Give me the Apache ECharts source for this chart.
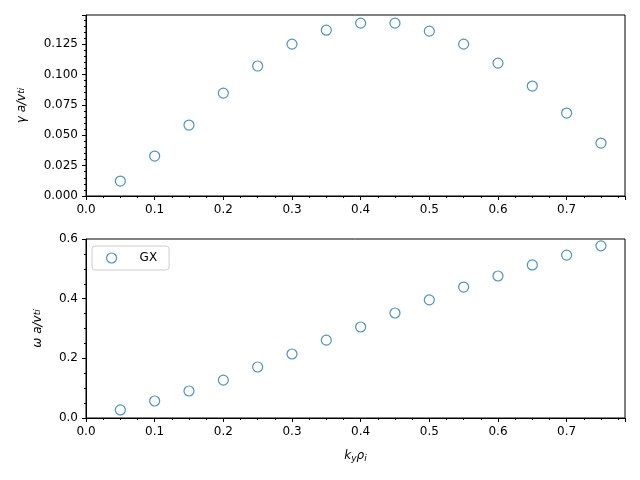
<!DOCTYPE html>
<html><head><meta charset="utf-8">
<script src="https://cdn.jsdelivr.net/npm/echarts@6/dist/echarts.min.js"></script>
<style>html,body{margin:0;padding:0;background:#fff}#c{width:640px;height:480px}</style>
</head><body><div id="c"></div>
<script>
const ky = [0.05,0.1,0.15,0.2,0.25,0.3,0.35,0.4,0.45,0.5,0.55,0.6,0.65,0.7,0.75];
const gamma = [0.0123,0.0329,0.0584,0.0847,0.107,0.125,0.1365,0.1423,0.1423,0.1357,0.125,0.1094,0.0905,0.0683,0.0436];
const omega = [0.027,0.057,0.0905,0.127,0.171,0.2145,0.261,0.305,0.352,0.396,0.439,0.476,0.513,0.546,0.577];
const c = '#1f77b4';
const font = 'DejaVu Sans';
const chart = echarts.init(document.getElementById('c'));
const xAx = (i, name) => ({
  type:'value', gridIndex:i, min:0, max:0.785, interval:0.1,
  name:name, nameLocation:'middle', nameGap:30,
  nameTextStyle:{color:'#000',fontFamily:font,fontSize:12,rich:{s:{fontSize:9,fontStyle:'italic',verticalAlign:'bottom',padding:[6,0,0,0]},i:{fontStyle:'italic',fontSize:12}}},
  axisLine:{show:true,lineStyle:{color:'#000'}},
  axisTick:{show:true,length:4,inside:false,lineStyle:{color:'#000'}},
  minorTick:{show:true,splitNumber:4,length:2,lineStyle:{color:'#000'}},
  splitLine:{show:false},
  axisLabel:{color:'#000',fontFamily:font,fontSize:12,showMaxLabel:false,formatter:v=>v.toFixed(1)}
});
const yAx = (i, max, interval, dec, name, showMax) => ({
  type:'value', gridIndex:i, min:0, max:max, interval:interval,
  name:name, nameLocation:'middle', nameGap:dec===3?58:42, nameRotate:90,
  nameTextStyle:{color:'#000',fontFamily:font,fontSize:12,rich:{s:{fontSize:9,fontStyle:'italic',padding:[0,0,0,0]},i:{fontStyle:'italic',fontSize:12}}},
  axisLine:{show:true,lineStyle:{color:'#000'}},
  axisTick:{show:true,length:4,lineStyle:{color:'#000'}},
  minorTick:{show:true,splitNumber:dec===3?5:4,length:2,lineStyle:{color:'#000'}},
  splitLine:{show:false},
  axisLabel:{color:'#000',fontFamily:font,fontSize:12,showMaxLabel:showMax,formatter:v=>v.toFixed(dec)}
});
chart.setOption({
  animation:false,
  grid:[
    {left:86,right:15,top:15,height:181,show:true,borderColor:'#000',borderWidth:1},
    {left:86,right:15,top:239,height:179,show:true,borderColor:'#000',borderWidth:1}
  ],
  xAxis:[xAx(0,''), xAx(1,'{i|k}{s|y}{i|ρ}{s|i}')],
  yAxis:[yAx(0,0.149,0.025,3,'{i|γ a/v}{s|ti}',false), yAx(1,0.6,0.2,1,'{i|ω a/v}{s|ti}',true)],
  legend:{show:true,left:92,top:246,orient:'vertical',data:[{name:'GX',icon:'circle'}],
    itemWidth:10,itemHeight:10,itemGap:4,padding:[6,12,6,14],borderColor:'#ccc',borderWidth:1,borderRadius:3,
    textStyle:{fontFamily:font,fontSize:12,color:'#000',padding:[0,0,0,18]},
    itemStyle:{color:'#fff',borderColor:c,borderWidth:1.2}},
  series:[
    {name:'GX_top',type:'scatter',xAxisIndex:0,yAxisIndex:0,symbol:'circle',symbolSize:10,
     data:ky.map((x,i)=>[x,gamma[i]]),itemStyle:{color:'#fff',borderColor:c,borderWidth:1.2}},
    {name:'GX',type:'scatter',xAxisIndex:1,yAxisIndex:1,symbol:'circle',symbolSize:10,
     data:ky.map((x,i)=>[x,omega[i]]),itemStyle:{color:'#fff',borderColor:c,borderWidth:1.2}}
  ]
});
</script></body></html>
